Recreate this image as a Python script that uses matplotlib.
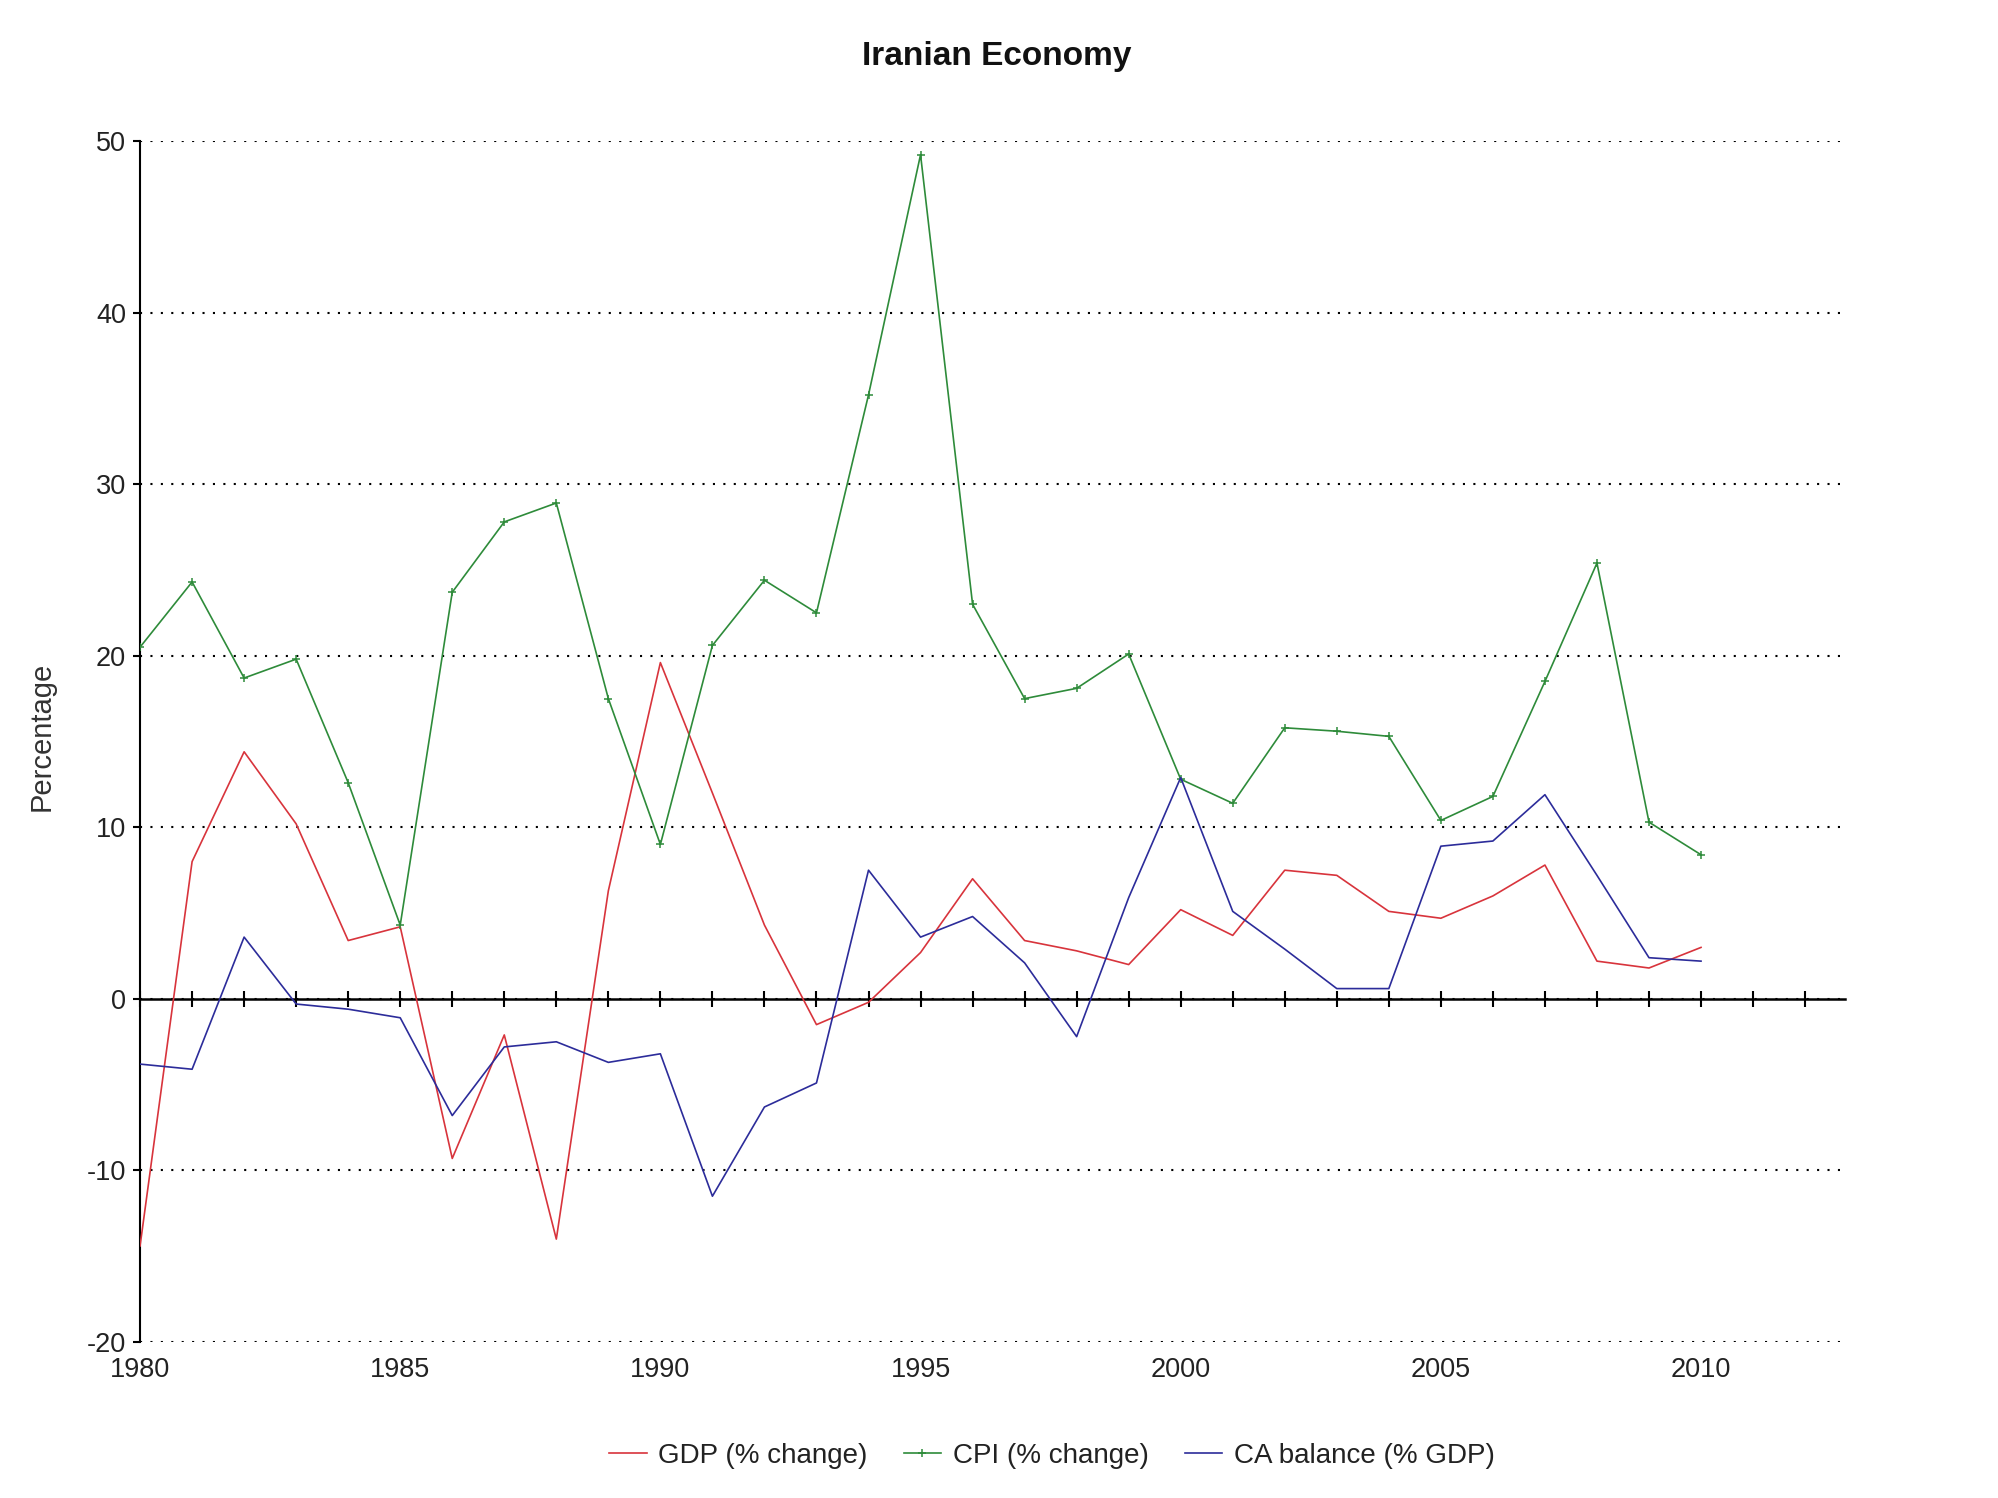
import matplotlib
matplotlib.use("Agg")
import matplotlib.pyplot as plt
from matplotlib.ticker import FixedLocator

plt.rcParams['font.family'] = ['Liberation Sans', 'DejaVu Sans']
plt.rcParams['axes.unicode_minus'] = False

years = list(range(1980, 2011))
gdp = [-14.4, 8.0, 14.4, 10.2, 3.4, 4.2, -9.3, -2.1, -14.0, 6.3,
       19.6, 12.0, 4.3, -1.5, -0.2, 2.7, 7.0, 3.4, 2.8, 2.0,
       5.2, 3.7, 7.5, 7.2, 5.1, 4.7, 6.0, 7.8, 2.2, 1.8, 3.0]
cpi = [20.5, 24.3, 18.7, 19.8, 12.6, 4.3, 23.7, 27.8, 28.9, 17.5,
       9.0, 20.6, 24.4, 22.5, 35.2, 49.2, 23.0, 17.5, 18.1, 20.1,
       12.8, 11.4, 15.8, 15.6, 15.3, 10.4, 11.8, 18.5, 25.4, 10.3, 8.4]
ca = [-3.8, -4.1, 3.6, -0.3, -0.6, -1.1, -6.8, -2.8, -2.5, -3.7,
      -3.2, -11.5, -6.3, -4.9, 7.5, 3.6, 4.8, 2.1, -2.2, 5.9,
      12.9, 5.1, 2.9, 0.6, 0.6, 8.9, 9.2, 11.9, 7.2, 2.4, 2.2]

series_names = ['GDP (% change)', 'CPI (% change)', 'CA balance (% GDP)']
colors = ['#d8343c', '#2e8b3a', '#2c2c9a']
yticks = [-20, -10, 0, 10, 20, 30, 40, 50]
xlabel_ticks = [1980, 1985, 1990, 1995, 2000, 2005, 2010]
minor_years = list(range(1980, 2013))

fig = plt.figure(figsize=(19.98, 14.98), dpi=100)
ax = fig.add_axes([0.0701, 0.1041, 0.8534, 0.8018])

ax.plot(years, gdp, color=colors[0], lw=1.2, label=series_names[0], zorder=3)
ax.plot(years, cpi, color=colors[1], lw=1.2, marker='+', ms=6, mew=1.1,
        label=series_names[1], zorder=3)
ax.plot(years, ca, color=colors[2], lw=1.2, label=series_names[2], zorder=3)

ax.set_xlim(1980, 2012.77)
ax.set_ylim(-20, 50)

ax.yaxis.set_major_locator(FixedLocator(yticks))
ax.grid(axis='y', color='black', linestyle=(0, (1, 4)), linewidth=1.5)
ax.grid(axis='x', visible=False)

for s in ['top', 'right']:
    ax.spines[s].set_visible(False)
ax.spines['left'].set_linewidth(1.5)
ax.spines['bottom'].set_position(('data', 0))
ax.spines['bottom'].set_linewidth(1.8)

ax.xaxis.set_major_locator(FixedLocator(minor_years))
ax.tick_params(axis='x', direction='inout', length=12, width=1.5,
               labelbottom=False, color='black')
ax.tick_params(axis='y', direction='out', length=5, width=1.5, pad=5,
               labelsize=19.5, labelcolor='#222222')

sec = ax.secondary_xaxis(0)
sec.xaxis.set_major_locator(FixedLocator(xlabel_ticks))
sec.set_xticklabels([str(v) for v in xlabel_ticks])
sec.tick_params(length=0, pad=11, labelsize=19.5, labelcolor='#222222')
sec.spines['bottom'].set_visible(False)

fig.text(0.499, 0.9626, 'Iranian Economy', ha='center', va='center',
         fontsize=24, fontweight='bold', color='#111111')
fig.text(0.021, 0.5087, 'Percentage', rotation=90, ha='center', va='center',
         fontsize=21, color='#333333')

leg = fig.legend(loc='center', bbox_to_anchor=(0.5265, 0.028), ncol=3,
                 frameon=False, fontsize=20, handlelength=1.35,
                 handletextpad=0.42, columnspacing=1.3)
for t in leg.get_texts():
    t.set_color('#222222')

fig.savefig('out.png', dpi=100)
